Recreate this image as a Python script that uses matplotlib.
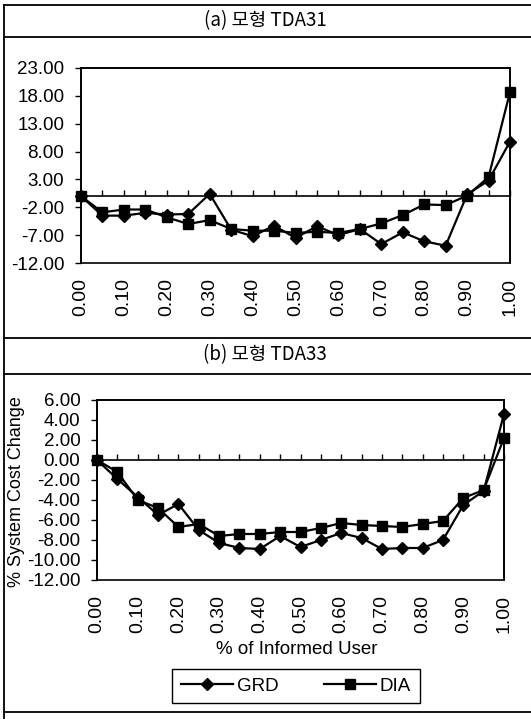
import numpy as np
import matplotlib
matplotlib.use("Agg")
from matplotlib import pyplot as plt
from matplotlib.lines import Line2D

plt.rcParams['font.family'] = ['Liberation Sans', 'Noto Sans CJK KR', 'DejaVu Sans']

W, H = 531, 719

# share of informed users (category axis)
informed = [0.00, 0.05, 0.10, 0.15, 0.20, 0.25, 0.30, 0.35, 0.40, 0.45, 0.50,
            0.55, 0.60, 0.65, 0.70, 0.75, 0.80, 0.85, 0.90, 0.95, 1.00]
tick_labels = ["0.00", "0.10", "0.20", "0.30", "0.40", "0.50",
               "0.60", "0.70", "0.80", "0.90", "1.00"]

# (a) TDA31
grd_a = [0.0, -3.5, -3.5, -3.0, -3.3, -3.2, 0.4, -6.0, -7.2, -5.3, -7.5,
         -5.4, -7.0, -5.9, -8.6, -6.5, -8.1, -8.9, 0.3, 2.8, 9.8]
dia_a = [0.0, -2.9, -2.4, -2.4, -3.8, -5.0, -4.3, -5.9, -6.2, -6.2, -6.6,
         -6.4, -6.6, -5.9, -4.9, -3.4, -1.5, -1.6, 0.1, 3.4, 18.7]
yticks_a = [23.0, 18.0, 13.0, 8.0, 3.0, -2.0, -7.0, -12.0]

# (b) TDA33
grd_b = [0.0, -1.9, -3.7, -5.5, -4.4, -7.0, -8.3, -8.8, -8.9, -7.6, -8.7,
         -8.0, -7.3, -7.8, -8.9, -8.8, -8.8, -8.0, -4.5, -3.1, 4.6]
dia_b = [0.0, -1.2, -4.0, -4.8, -6.7, -6.4, -7.6, -7.4, -7.4, -7.2, -7.2,
         -6.8, -6.3, -6.5, -6.6, -6.7, -6.4, -6.1, -3.8, -3.0, 2.2]
yticks_b = [6.0, 4.0, 2.0, 0.0, -2.0, -4.0, -6.0, -8.0, -10.0, -12.0]

fig = plt.figure(figsize=(W / 100, H / 100), dpi=100)


def px_box(left, top, right, bottom):
    return [left / W, 1 - bottom / H, (right - left) / W, (bottom - top) / H]


def hline(y, x0=4, x1=W):
    fig.add_artist(Line2D([x0 / W, x1 / W], [1 - y / H, 1 - y / H],
                          transform=fig.transFigure, color='black', lw=1.3))


def draw_panel(rect, grd, dia, yticks):
    ax = fig.add_axes(rect)
    ax.plot(informed, grd, color='black', lw=1.6, marker='D', ms=6.5,
            clip_on=False, zorder=3, label='GRD')
    ax.plot(informed, dia, color='black', lw=1.6, marker='s', ms=6.5,
            clip_on=False, zorder=3, label='DIA')
    ax.set_xlim(0, 1)
    ax.set_ylim(min(yticks), max(yticks))
    ax.set_yticks(yticks)
    ax.set_yticklabels(["%.2f" % v for v in yticks], fontsize=13.5)
    ax.tick_params(axis='y', direction='out', length=4, width=1, pad=8)

    # category axis crosses at zero, small ticks pointing up
    ax.spines['bottom'].set_position(('data', 0))
    ax.set_xticks(informed)
    ax.tick_params(axis='x', direction='in', length=4, width=1,
                   labelbottom=False)
    for s in ax.spines.values():
        s.set_linewidth(1.2)
    ax.patch.set_edgecolor('black')
    ax.patch.set_linewidth(1.2)

    # labels sit under the plot area
    sec = ax.secondary_xaxis('bottom')
    sec.set_xticks(informed[::2])
    sec.set_xticklabels(tick_labels, rotation=90, fontsize=14)
    sec.tick_params(length=0, pad=11)
    sec.spines['bottom'].set_visible(False)
    return ax


ax_a = draw_panel(px_box(81, 68, 510, 263), grd_a, dia_a, yticks_a)
ax_b = draw_panel(px_box(97, 400, 504, 580), grd_b, dia_b, yticks_b)

# panel frames and headers
fig.add_artist(Line2D([4 / W, 4 / W], [1 - 5 / H, 0], transform=fig.transFigure,
                      color='black', lw=1.3))
for y in [5, 37, 338, 374, 712]:
    hline(y)

fig.text(265 / W, 1 - 21 / H, "(a) 모형 TDA31", ha='center', va='center',
         fontsize=13.5, family=['Noto Sans CJK KR', 'DejaVu Sans'])
fig.text(265 / W, 1 - 355 / H, "(b) 모형 TDA33", ha='center', va='center',
         fontsize=13.5, family=['Noto Sans CJK KR', 'DejaVu Sans'])

fig.text(17 / W, 1 - 492 / H, "% System Cost Change", rotation=90,
         ha='center', va='center', fontsize=13)
fig.text(297 / W, 1 - 650 / H, "% of Informed User", ha='center',
         va='center', fontsize=13.5)

handles, labels = ax_b.get_legend_handles_labels()
leg = fig.legend(handles, labels, loc='center', ncol=2,
                 bbox_to_anchor=(296 / W, 1 - 686 / H), fontsize=13.5,
                 handlelength=2.8, columnspacing=2.4, handletextpad=0.2,
                 fancybox=False, framealpha=1, borderpad=0.45)
leg.get_frame().set_edgecolor('black')
leg.get_frame().set_linewidth(1.0)

fig.savefig("out.png", dpi=100)
